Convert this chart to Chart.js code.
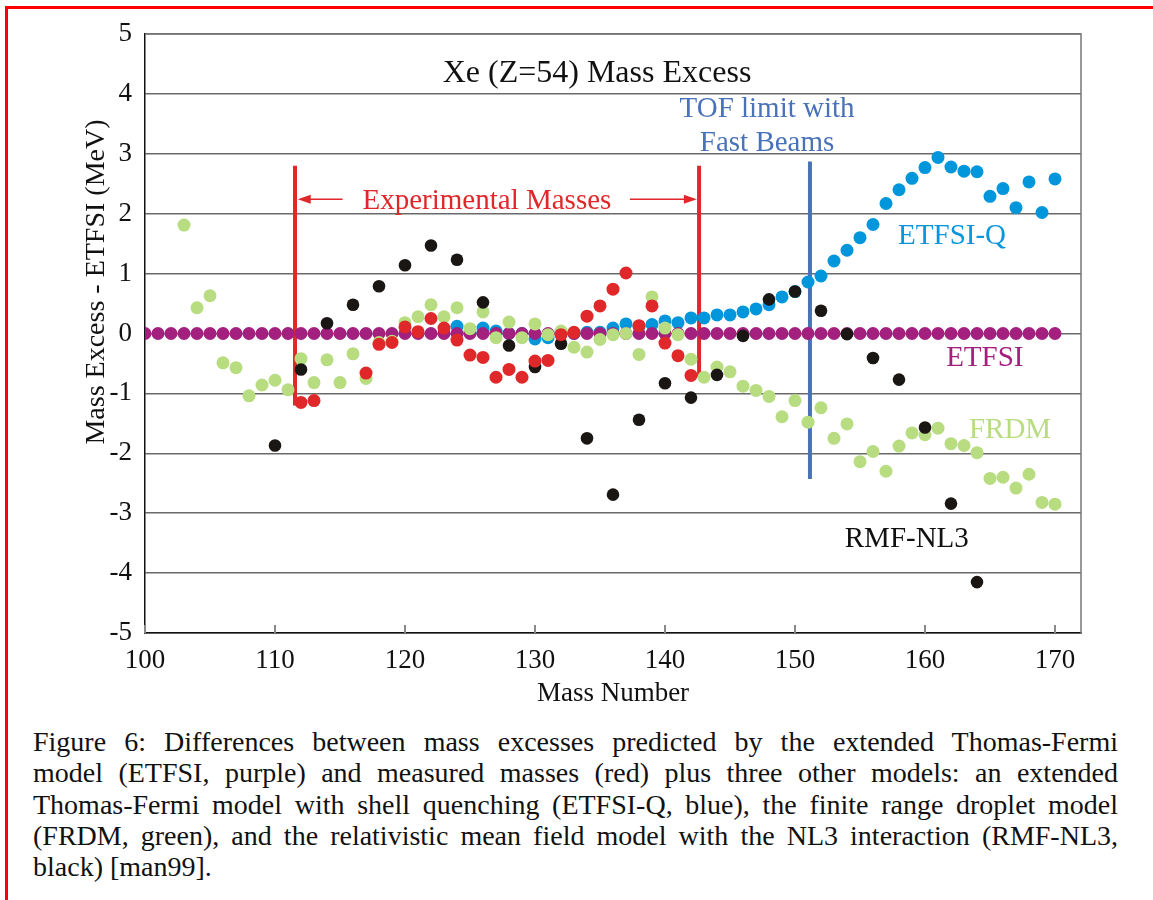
<!DOCTYPE html>
<html>
<head>
<meta charset="utf-8">
<script src="https://cdn.jsdelivr.net/npm/chart.js@4/dist/chart.umd.min.js"></script>
<style>
  body { margin: 0; background: #fff; width: 1153px; height: 900px; overflow: hidden; position: relative; }
  #frame { position: absolute; left: 5px; top: 6px; width: 1200px; height: 1000px; border-top: 3px solid #ff0000; border-left: 3px solid #ff0000; }
  #wrap { position: absolute; left: 0; top: 0; width: 1153px; height: 710px; }
  #caption { position: absolute; left: 33px; top: 726px; width: 1085px; font-family: "Liberation Serif", "Times New Roman", serif; font-size: 28px; line-height: 31.3px; color: #111; }
  #caption div { text-align: justify; text-align-last: justify; white-space: nowrap; }
  #caption div.last { text-align-last: left; }
</style>
</head>
<body>
<div id="frame"></div>
<div id="wrap"><canvas id="chart" width="1153" height="710"></canvas></div>
<div id="caption">
  <div>Figure 6: Differences between mass excesses predicted by the extended Thomas-Fermi</div>
  <div>model (ETFSI, purple) and measured masses (red) plus three other models: an extended</div>
  <div>Thomas-Fermi model with shell quenching (ETFSI-Q, blue), the finite range droplet model</div>
  <div>(FRDM, green), and the relativistic mean field model with the NL3 interaction (RMF-NL3,</div>
  <div class="last">black) [man99].</div>
</div>
<script>
// mass excess differences relative to ETFSI (MeV)
const etfsiMass = [100,101,102,103,104,105,106,107,108,109,110,111,112,113,114,115,116,117,118,119,120,
  121,122,123,124,125,126,127,128,129,130,131,132,133,134,135,136,137,138,139,140,
  141,142,143,144,145,146,147,148,149,150,151,152,153,154,155,156,157,158,159,160,
  161,162,163,164,165,166,167,168,169,170];
const etfsiValues = [0,0,0,0,0,0,0,0,0,0,0,0,0,0,0,0,0,0,0,0,0,
  0,0,0,0,0,0,0,0,0,0,0,0,0,0,0,0,0,0,0,0,
  0,0,0,0,0,0,0,0,0,0,0,0,0,0,0,0,0,0,0,0,
  0,0,0,0,0,0,0,0,0,0];

const etfsiqMass = [124,125,126,127,128,129,130,131,132,133,134,135,136,137,138,139,140,
  141,142,143,144,145,146,147,148,149,150,151,152,153,154,155,156,157,158,159,160,
  161,162,163,164,165,166,167,168,169,170];
const etfsiqValues = [0.12,0.02,0.09,0.04,0.00,0.00,-0.09,-0.07,0.02,0.00,0.02,0.02,0.09,0.16,0.12,0.15,0.21,
  0.18,0.26,0.26,0.31,0.31,0.36,0.41,0.48,0.61,0.70,0.86,0.96,1.21,1.39,1.60,1.82,2.17,2.40,2.59,2.77,
  2.94,2.78,2.71,2.70,2.29,2.42,2.10,2.53,2.02,2.58];

const frdmMass = [103,104,105,106,107,108,109,110,111,112,113,114,115,116,117,118,119,120,
  121,122,123,124,125,126,127,128,129,130,131,132,133,134,135,136,137,138,139,140,
  141,142,143,144,145,146,147,148,149,150,151,152,153,154,155,156,157,158,159,160,
  161,162,163,164,165,166,167,168,169,170];
const frdmValues = [1.81,0.43,0.63,-0.49,-0.57,-1.04,-0.86,-0.78,-0.94,-0.42,-0.82,-0.44,-0.82,-0.34,-0.75,-0.15,-0.13,0.18,
  0.28,0.48,0.28,0.43,0.08,0.36,-0.07,0.19,-0.07,0.16,-0.02,0.04,-0.23,-0.31,-0.10,-0.02,0.00,-0.35,0.61,0.09,
  -0.02,-0.43,-0.73,-0.56,-0.64,-0.88,-0.95,-1.05,-1.39,-1.12,-1.48,-1.24,-1.75,-1.51,-2.14,-1.97,-2.30,-1.88,-1.66,-1.69,
  -1.58,-1.84,-1.87,-1.99,-2.42,-2.40,-2.58,-2.35,-2.82,-2.85];

const rmfMass = [110,112,114,116,118,120,122,124,126,128,130,132,134,136,138,140,
  142,144,146,148,150,152,154,156,158,160,162,164];
const rmfValues = [-1.87,-0.60,0.17,0.48,0.79,1.14,1.47,1.23,0.52,-0.20,-0.56,-0.17,-1.75,-2.69,-1.44,-0.83,
  -1.07,-0.69,-0.04,0.57,0.70,0.38,-0.01,-0.41,-0.77,-1.57,-2.84,-4.15];

const exptMass = [112,113,117,118,119,120,121,122,123,124,125,126,127,128,129,130,
  131,132,133,134,135,136,137,138,139,140,141,142];
const exptValues = [-1.15,-1.12,-0.66,-0.18,-0.15,0.11,0.03,0.25,0.09,-0.11,-0.36,-0.40,-0.73,-0.60,-0.73,-0.46,
  -0.45,-0.02,0.02,0.29,0.46,0.74,1.01,0.13,0.46,-0.16,-0.37,-0.70];

const xTickValues = [100, 110, 120, 130, 140, 150, 160, 170];

function pts(xs, ys) {
  return xs.map((x, i) => ({ x: x, y: ys[i] }));
}

const SERIF = '"Liberation Serif", "Times New Roman", serif';

// text labels and marker lines, placed in data units
const notes = [
  { text: 'Xe (Z=54) Mass Excess', x: 134.77, y: 4.34, color: '#111111', size: 32 },
  { text: 'TOF limit with', x: 147.85, y: 3.74, color: '#4a72b8', size: 29 },
  { text: 'Fast Beams', x: 147.85, y: 3.17, color: '#4a72b8', size: 29 },
  { text: 'Experimental Masses', x: 126.3, y: 2.21, color: '#e0282a', size: 29 },
  { text: 'ETFSI-Q', x: 162.08, y: 1.62, color: '#0a96dc', size: 29 },
  { text: 'ETFSI', x: 164.6, y: -0.42, color: '#a3207e', size: 29 },
  { text: 'FRDM', x: 166.54, y: -1.62, color: '#b8dc80', size: 29 },
  { text: 'RMF-NL3', x: 158.6, y: -3.43, color: '#111111', size: 29 }
];
const vLines = [
  { x: 111.54, y0: 2.80, y1: -1.20, color: '#e0282a', w: 4 },
  { x: 142.62, y0: 2.80, y1: -0.72, color: '#e0282a', w: 4 },
  { x: 151.15, y0: 2.87, y1: -2.43, color: '#4a72b8', w: 4 }
];
const arrows = [
  { from: 115.2, to: 111.75, y: 2.24 },
  { from: 137.3, to: 142.45, y: 2.24 }
];
const yTitle = { text: 'Mass Excess - ETFSI (MeV)', px: 97, py: 282, size: 28 };

const overlay = {
  id: 'overlay',
  beforeDatasetsDraw(chart) {
    const { ctx, chartArea: a, scales: { x, y } } = chart;
    ctx.save();
    // top and right edges of the plot box
    ctx.strokeStyle = '#777';
    ctx.lineWidth = 1.5;
    ctx.beginPath();
    ctx.moveTo(a.left, a.top);
    ctx.lineTo(a.right, a.top);
    ctx.lineTo(a.right, a.bottom);
    ctx.stroke();
    // short inner tick marks on the mass axis
    ctx.strokeStyle = '#888';
    ctx.lineWidth = 2;
    x.ticks.forEach(t => {
      const px = x.getPixelForValue(t.value);
      ctx.beginPath();
      ctx.moveTo(px, a.bottom);
      ctx.lineTo(px, a.bottom - 8);
      ctx.stroke();
    });
    vLines.forEach(l => {
      const px = x.getPixelForValue(l.x);
      ctx.strokeStyle = l.color;
      ctx.lineWidth = l.w;
      ctx.beginPath();
      ctx.moveTo(px, y.getPixelForValue(l.y0));
      ctx.lineTo(px, y.getPixelForValue(l.y1));
      ctx.stroke();
    });
    ctx.restore();
  },
  afterDatasetsDraw(chart) {
    const { ctx, scales: { x, y } } = chart;
    ctx.save();
    arrows.forEach(ar => {
      const x0 = x.getPixelForValue(ar.from);
      const x1 = x.getPixelForValue(ar.to);
      const py = y.getPixelForValue(ar.y);
      const dir = Math.sign(x1 - x0);
      ctx.strokeStyle = '#e0282a';
      ctx.fillStyle = '#e0282a';
      ctx.lineWidth = 1.6;
      ctx.beginPath();
      ctx.moveTo(x0, py);
      ctx.lineTo(x1 - dir * 10, py);
      ctx.stroke();
      ctx.beginPath();
      ctx.moveTo(x1, py);
      ctx.lineTo(x1 - dir * 13, py - 4.5);
      ctx.lineTo(x1 - dir * 13, py + 4.5);
      ctx.closePath();
      ctx.fill();
    });
    ctx.textAlign = 'center';
    ctx.textBaseline = 'middle';
    notes.forEach(n => {
      ctx.font = n.size + 'px ' + SERIF;
      ctx.fillStyle = n.color;
      ctx.fillText(n.text, x.getPixelForValue(n.x), y.getPixelForValue(n.y));
    });
    // value axis title sits above the axis centre
    ctx.translate(yTitle.px, yTitle.py);
    ctx.rotate(-Math.PI / 2);
    ctx.font = yTitle.size + 'px ' + SERIF;
    ctx.fillStyle = '#111';
    ctx.fillText(yTitle.text, 0, 0);
    ctx.restore();
  }
};

const dot = (color, r) => ({
  backgroundColor: color,
  borderWidth: 0,
  pointRadius: r,
  pointHoverRadius: r
});

new Chart(document.getElementById('chart'), {
  type: 'scatter',
  data: {
    datasets: [
      { label: 'Experiment', data: pts(exptMass, exptValues), order: 1, ...dot('#e0282a', 6.5) },
      { label: 'RMF-NL3', data: pts(rmfMass, rmfValues), order: 2, ...dot('#1a1614', 6.3) },
      { label: 'FRDM', data: pts(frdmMass, frdmValues), order: 3, ...dot('#b8dc80', 6.5) },
      { label: 'ETFSI', data: pts(etfsiMass, etfsiValues), order: 4, ...dot('#a3207e', 6.5) },
      { label: 'ETFSI-Q', data: pts(etfsiqMass, etfsiqValues), order: 5, ...dot('#0096dc', 6.5) }
    ]
  },
  options: {
    responsive: false,
    animation: false,
    events: [],
    layout: { padding: { top: 34, right: 72, left: 0, bottom: 0 } },
    plugins: { legend: { display: false }, tooltip: { enabled: false } },
    scales: {
      x: {
        type: 'linear',
        min: 100,
        max: 172,
        afterBuildTicks(s) { s.ticks = xTickValues.map(v => ({ value: v })); },
        afterFit(s) { s.height = 77; },
        ticks: { color: '#111', padding: 4, font: { family: SERIF, size: 27 } },
        grid: { display: false },
        border: { display: true, color: '#111', width: 1.5 },
        title: { display: true, text: 'Mass Number', color: '#111', padding: { top: 0, bottom: 0 }, font: { family: SERIF, size: 27 } }
      },
      y: {
        min: -5,
        max: 5,
        afterFit(s) { s.width = 145; },
        ticks: { stepSize: 1, color: '#111', padding: 13, font: { family: SERIF, size: 27 } },
        grid: { color: '#6a6a6a', lineWidth: 1.5, drawTicks: false },
        border: { display: true, color: '#111', width: 1.5 }
      }
    }
  },
  plugins: [overlay]
});
</script>
</body>
</html>
